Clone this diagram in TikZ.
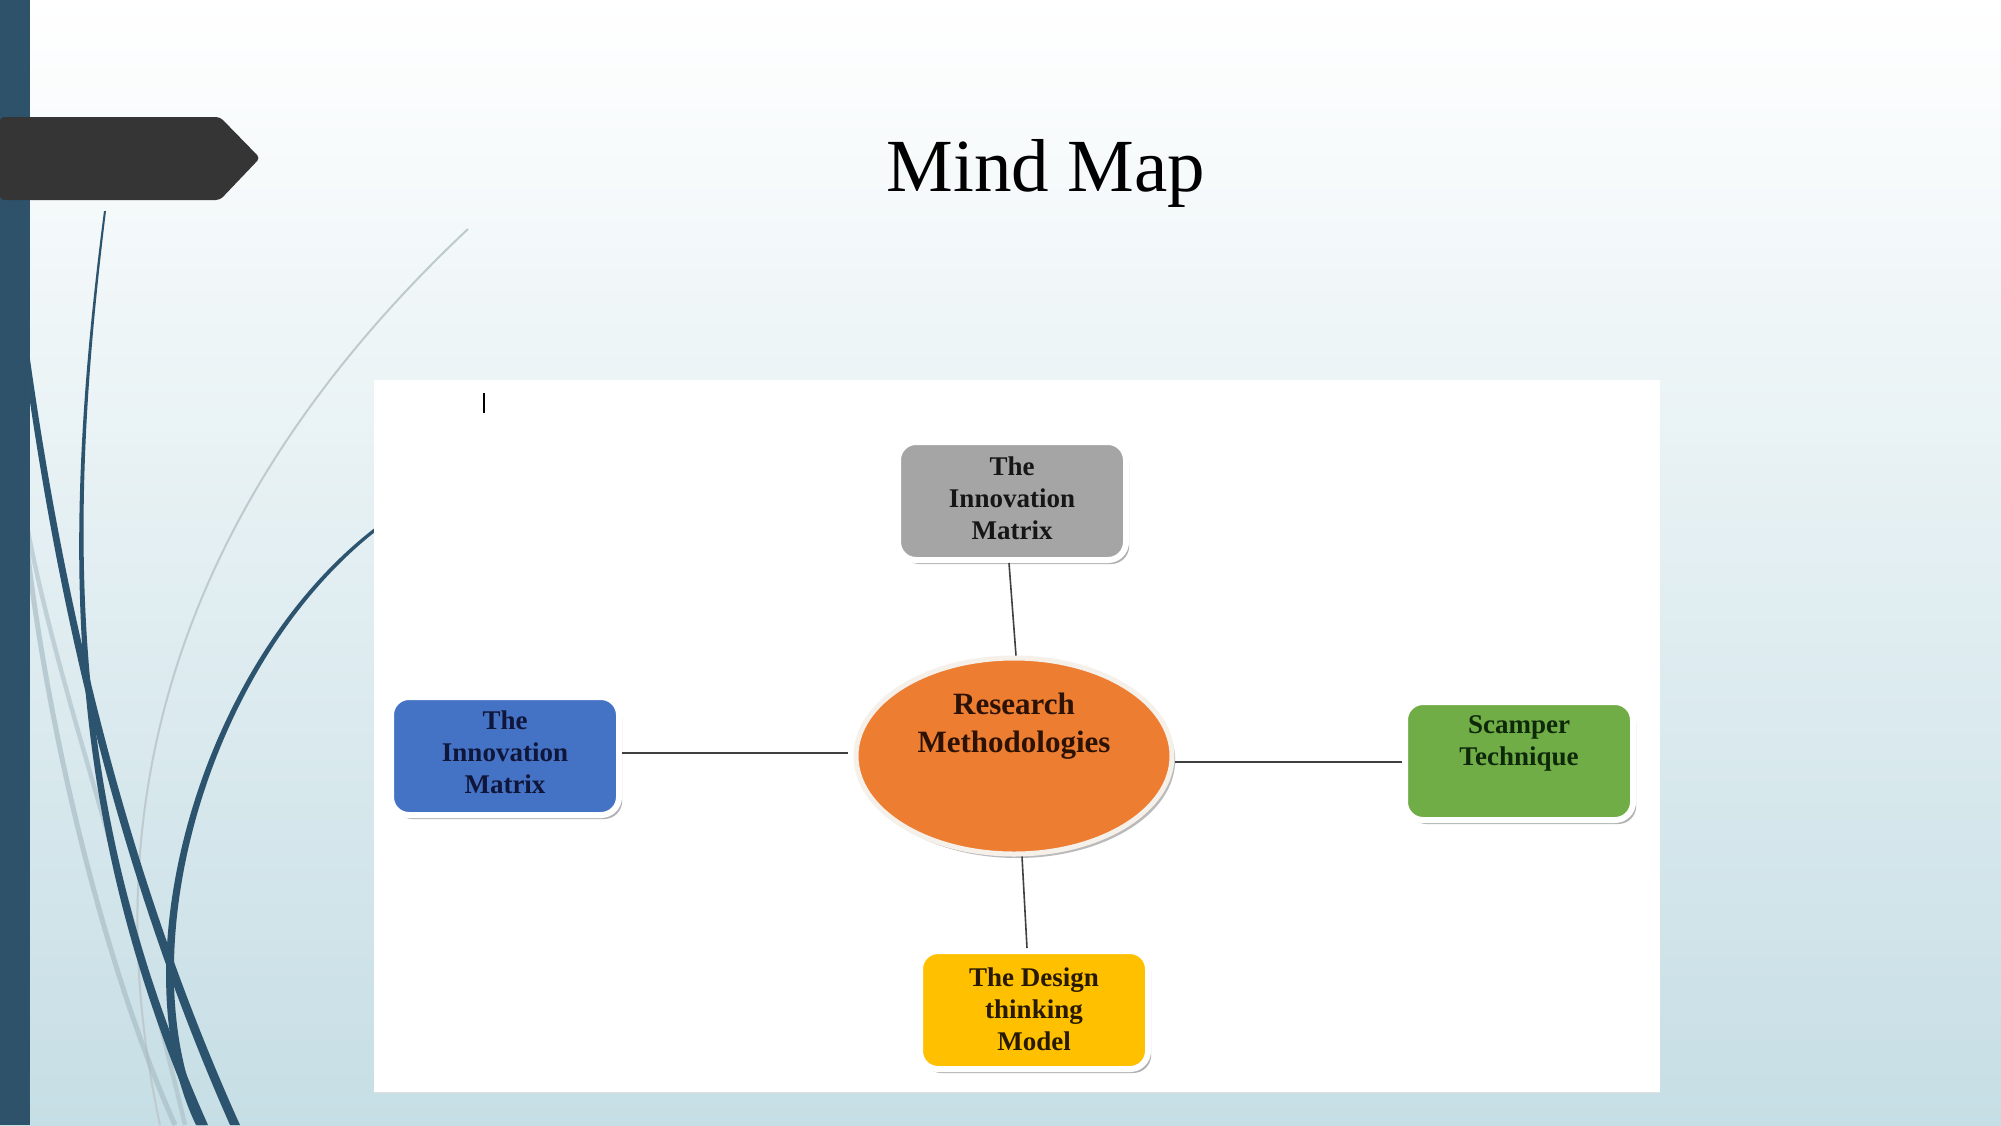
\documentclass[tikz,border=0pt]{standalone}
\usepackage{fontspec}
\setmainfont{Liberation Serif}
\usetikzlibrary{shapes.geometric,shadows}
\definecolor{barcol}{RGB}{45,82,106}
\definecolor{curvecol}{RGB}{44,84,110}
\definecolor{arrowcol}{RGB}{53,53,53}
\definecolor{bgbottom}{RGB}{198,222,229}
\definecolor{lightcurve}{RGB}{190,202,206}
\definecolor{shadowcurve}{RGB}{170,190,198}
\definecolor{cgray}{RGB}{165,165,165}
\definecolor{cblue}{RGB}{68,114,196}
\definecolor{cgreen}{RGB}{112,173,71}
\definecolor{cyellow}{RGB}{255,192,0}
\definecolor{corange}{RGB}{237,125,49}
\definecolor{rimcol}{RGB}{246,240,234}
\definecolor{tgray}{RGB}{22,22,22}
\definecolor{tblue}{RGB}{16,22,58}
\definecolor{tgreen}{RGB}{14,40,10}
\definecolor{tyellow}{RGB}{40,26,0}
\definecolor{torange}{RGB}{43,18,5}
\begin{document}
\begin{tikzpicture}[x=0.5pt,y=-0.5pt,
  box/.style={draw=white, line width=3pt, rounded corners=9pt,
    minimum width=114pt, minimum height=59pt, inner sep=0pt,
    drop shadow={shadow xshift=1.6pt, shadow yshift=-2pt, fill=black!60, opacity=0.5}},
  boxtxt/.style={font=\fontsize{13.5}{16}\selectfont\bfseries, align=center, inner sep=0pt},
  rmtxt/.style={font=\fontsize{15.5}{19}\selectfont\bfseries, align=center, inner sep=0pt},
  link/.style={draw=black!75, line width=0.8pt},
]
\useasboundingbox (0,0) rectangle (2001,1125);
\clip (0,0) rectangle (2001,1125);
% background
\shade[top color=white, bottom color=bgbottom] (0,0) rectangle (2001,1125);
% light decorative curves
\draw[lightcurve, line width=1pt] (468,229) .. controls (180,500) and (90,800) .. (160,1125);
\draw[shadowcurve, opacity=0.7, line width=2.5pt] (26,540) .. controls (50,750) and (110,980) .. (175,1125);
\draw[shadowcurve, opacity=0.6, line width=2.2pt] (26,520) .. controls (55,680) and (120,850) .. (185,1125);
% dark decorative curves (tapered)
\fill[curvecol] (104,211) .. controls (60,550) and (65,820) .. (198,1125) -- (208,1125) .. controls (72,820) and (64,550) .. (106,211) -- cycle;
\fill[curvecol] (22,345) .. controls (52,570) and (108,850) .. (230,1125) -- (240,1125) .. controls (116,850) and (59,570) .. (28,345) -- cycle;
\fill[curvecol] (380,524) .. controls (200,658) and (117,960) .. (196,1125) -- (205,1125) .. controls (125,960) and (205,662) .. (380,528) -- cycle;
% left bar and arrow
\fill[barcol] (0,0) rectangle (30,1125);
\fill[arrowcol, rounded corners=2pt] (0,117) -- (220,117) -- (260,158) -- (220,200) -- (0,200) -- cycle;
% title
\node[font=\fontsize{37.5}{44}\selectfont, anchor=base, inner sep=0pt] (title) at (1046,191) {Mind Map};
% white panel
\fill[white] (374,380) rectangle (1660,1092);
\draw[black!12, line width=0.5pt] (374,1092) -- (1660,1092);
\draw[line width=0.8pt] (484,393) -- (484,413);
% nodes
\node[box, fill=cgray] (tm) at (1012,501) {};
\node[boxtxt, text=tgray] (tmtext) at (1012,498) {The\\Innovation\\Matrix};
\node[box, fill=cblue] (lb) at (505,756) {};
\node[boxtxt, text=tblue] (lbtext) at (505,752) {The\\Innovation\\Matrix};
\node[box, fill=cgreen] (rb) at (1519,761) {};
\node[boxtxt, text=tgreen] (rbtext) at (1519,743) {Scamper\\Technique};
\node[box, fill=cyellow] (bm) at (1034,1010) {};
\node[boxtxt, text=tyellow] (bmtext) at (1034,1009) {The Design\\thinking\\Model};
\node[ellipse, fill=corange, draw=rimcol, line width=2.5pt, minimum width=158pt, minimum height=98pt, inner sep=0pt,
  drop shadow={shadow xshift=1.6pt, shadow yshift=-2pt, fill=black!60, opacity=0.45}] (rm) at (1014,756) {};
\node[rmtxt, text=torange] (rmtext) at (1014,726) {Research\\Methodologies};
% connectors
\draw[link] ([xshift=-1.5pt]tm.south) -- ([xshift=1pt]rm.north);
\draw[link] ([yshift=1.5pt]lb.east) -- ([xshift=-3pt,yshift=1.5pt]rm.west);
\draw[link] ([yshift=-3pt]rm.east) -- ([yshift=-0.5pt]rb.west);
\draw[link] ([xshift=4pt]rm.south) -- ([xshift=-3.5pt]bm.north);
\end{tikzpicture}
\end{document}
